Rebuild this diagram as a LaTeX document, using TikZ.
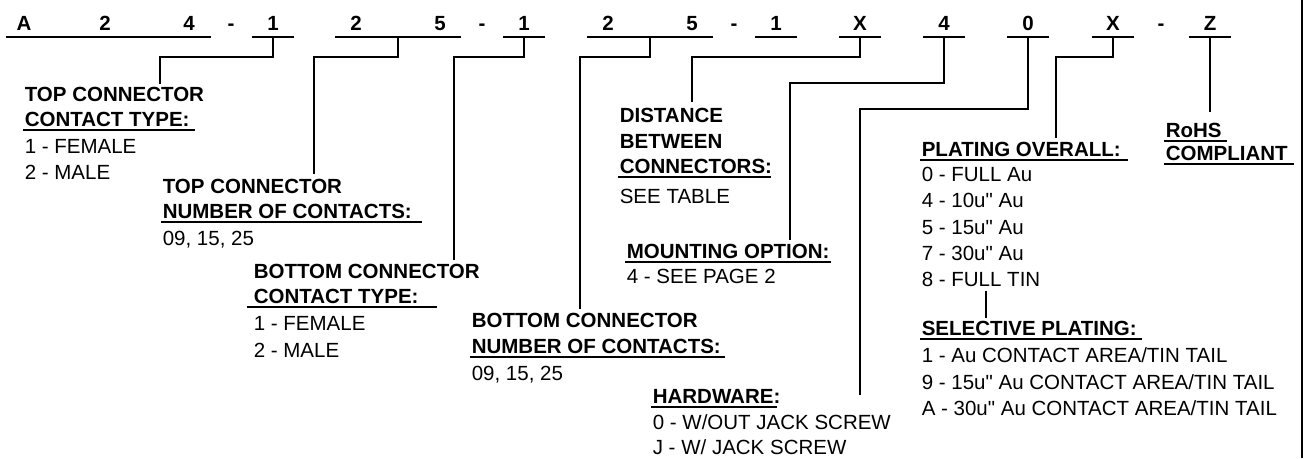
\documentclass[tikz,border=0pt]{standalone}
\usepackage{fontspec}
\setmainfont{Liberation Sans}[Ligatures=TeXOff]
\newcommand\pnfont{\fontsize{20.5pt}{24pt}\selectfont}

\begin{document}
\begin{tikzpicture}[x=1pt,y=-1pt,line width=1.6pt,
  ch/.style={anchor=base,inner sep=0pt,font=\pnfont\bfseries},
  hd/.style={anchor=base west,inner sep=0pt,font=\pnfont\bfseries},
  it/.style={anchor=base west,inner sep=0pt,font=\pnfont}]
  \useasboundingbox (0,0) rectangle (1314,458);
  % part number
  \node[ch] (cA) at (24,30) {A}; \node[ch] (c2a) at (105,30) {2}; \node[ch] (c4a) at (189,30) {4};
  \node[ch] (d1) at (231,30) {-}; \node[ch] (c1a) at (273,30) {1};
  \node[ch] (c2b) at (356,30) {2}; \node[ch] (c5b) at (440,30) {5};
  \node[ch] (d2) at (482,30) {-}; \node[ch] (c1b) at (524,30) {1};
  \node[ch] (c2c) at (608,30) {2}; \node[ch] (c5c) at (692,30) {5};
  \node[ch] (d3) at (734,30) {-}; \node[ch] (c1c) at (776,30) {1};
  \node[ch] (cXa) at (860,30) {X}; \node[ch] (c4d) at (944,30) {4};
  \node[ch] (c0) at (1028,30) {0}; \node[ch] (cXb) at (1113,30) {X};
  \node[ch] (d4) at (1161,30) {-}; \node[ch] (cZ) at (1210,30) {Z};
  \draw (6,37) -- (211,37);
  \draw (252,37) -- coordinate (k1) (294,37);
  \draw (335,37) -- coordinate (k2) (461,37);
  \draw (503,37) -- coordinate (k3) (545,37);
  \draw (587,37) -- coordinate (k4) (713,37);
  \draw (755,37) -- (797,37);
  \draw (839,37) -- coordinate (k5) (881,37);
  \draw (923,37) -- coordinate (k6) (965,37);
  \draw (1007,37) -- coordinate (k7) (1049,37);
  \draw (1092,37) -- coordinate (k8) (1134,37);
  \draw (1189,37) -- coordinate (k9) (1231,37);

  % top connector contact type
  \node[hd] (tc1a) at (24,101) {TOP CONNECTOR};
  \node[hd] (tc1b) at (24,126) {CONTACT TYPE:};
  \node[it] (tc1c) at (24,153) {1 - FEMALE};
  \node[it] (tc1d) at (24,179) {2 - MALE};
  \draw (23,130) -- (195,130);
  % top connector number of contacts
  \node[hd] (tc2a) at (162,193) {TOP CONNECTOR};
  \node[hd] (tc2b) at (162,218) {NUMBER OF CONTACTS:};
  \node[it] (tc2c) at (162,245) {09, 15, 25};
  \draw (161,222) -- (422,222);
  % bottom connector contact type
  \node[hd] (bc1a) at (253,278) {BOTTOM CONNECTOR};
  \node[hd] (bc1b) at (253,303) {CONTACT TYPE:};
  \node[it] (bc1c) at (253,330) {1 - FEMALE};
  \node[it] (bc1d) at (253,357) {2 - MALE};
  \draw (247,307) -- (437,307);
  % bottom connector number of contacts
  \node[hd] (bc2a) at (471,327) {BOTTOM CONNECTOR};
  \node[hd] (bc2b) at (471,353) {NUMBER OF CONTACTS:};
  \node[it] (bc2c) at (471,380) {09, 15, 25};
  \draw (470,357) -- (725,357);
  % distance
  \node[hd] (dsa) at (619,122) {DISTANCE};
  \node[hd] (dsb) at (619,148) {BETWEEN};
  \node[hd] (dsc) at (619,173) {CONNECTORS:};
  \node[it] (dsd) at (619,203) {SEE TABLE};
  \draw (618,177) -- (771,177);
  % mounting
  \node[hd] (mta) at (626,258) {MOUNTING OPTION:};
  \node[it] (mtb) at (626,283) {4 - SEE PAGE 2};
  \draw (625,262) -- (831,262);
  % hardware
  \node[hd] (hwa) at (652,403) {HARDWARE:};
  \node[it] (hwb) at (652,429) {0 - W/OUT JACK SCREW};
  \node[it] (hwc) at (652,454) {J - W/ JACK SCREW};
  \draw (651,407) -- (777,407);
  % plating
  \node[hd] (pla) at (921,156) {PLATING OVERALL:};
  \node[it] (plb) at (921,181) {0 - FULL Au};
  \node[it] (plc) at (921,207) {4 - 10u" Au};
  \node[it] (pld) at (921,234) {5 - 15u" Au};
  \node[it] (ple) at (921,260) {7 - 30u" Au};
  \node[it] (plf) at (921,286) {8 - FULL TIN};
  \draw (920,160) -- (1128,160);
  \node[hd] (spa) at (921,335) {SELECTIVE PLATING:};
  \node[it] (spb) at (921,362) {1 - Au CONTACT AREA/TIN TAIL};
  \node[it] (spc) at (921,389) {9 - 15u" Au CONTACT AREA/TIN TAIL};
  \node[it] (spd) at (921,415) {A - 30u" Au CONTACT AREA/TIN TAIL};
  \draw (920,339) -- (1142,339);
  % rohs
  \node[hd] (rha) at (1165,137) {RoHS};
  \node[hd] (rhb) at (1165,160) {COMPLIANT};
  \draw (1164,141) -- (1227,141);
  \draw (1164,164) -- (1294,164);

  % leaders
  \coordinate (e1) at (160,84);  \coordinate (e2) at (314,174);
  \coordinate (e3) at (454,260); \coordinate (e4) at (580,309);
  \coordinate (e5) at (692,102); \coordinate (e6) at (790,240);
  \coordinate (e7) at (860,395); \coordinate (e8) at (1056,138);
  \coordinate (e9) at (1210,112);
  \coordinate (f1) at (986,291); \coordinate (f2) at (986,318);
  \draw (k1) -- ++(0,20) -| (e1);
  \draw (k2) -- ++(0,20) -| (e2);
  \draw (k3) -- ++(0,20) -| (e3);
  \draw (k4) -- ++(0,20) -| (e4);
  \draw (k5) -- ++(0,20) -| (e5);
  \draw (k6) -- ++(0,46) -| (e6);
  \draw (k7) -- ++(0,72) -| (e7);
  \draw (k8) -- ++(0,20) -| (e8);
  \draw (k9) -- (e9);
  \draw (f1) -- (f2);
  % frame edge
  \draw[line width=2.5pt] (1302,0) -- (1302,458);
\end{tikzpicture}
\end{document}
